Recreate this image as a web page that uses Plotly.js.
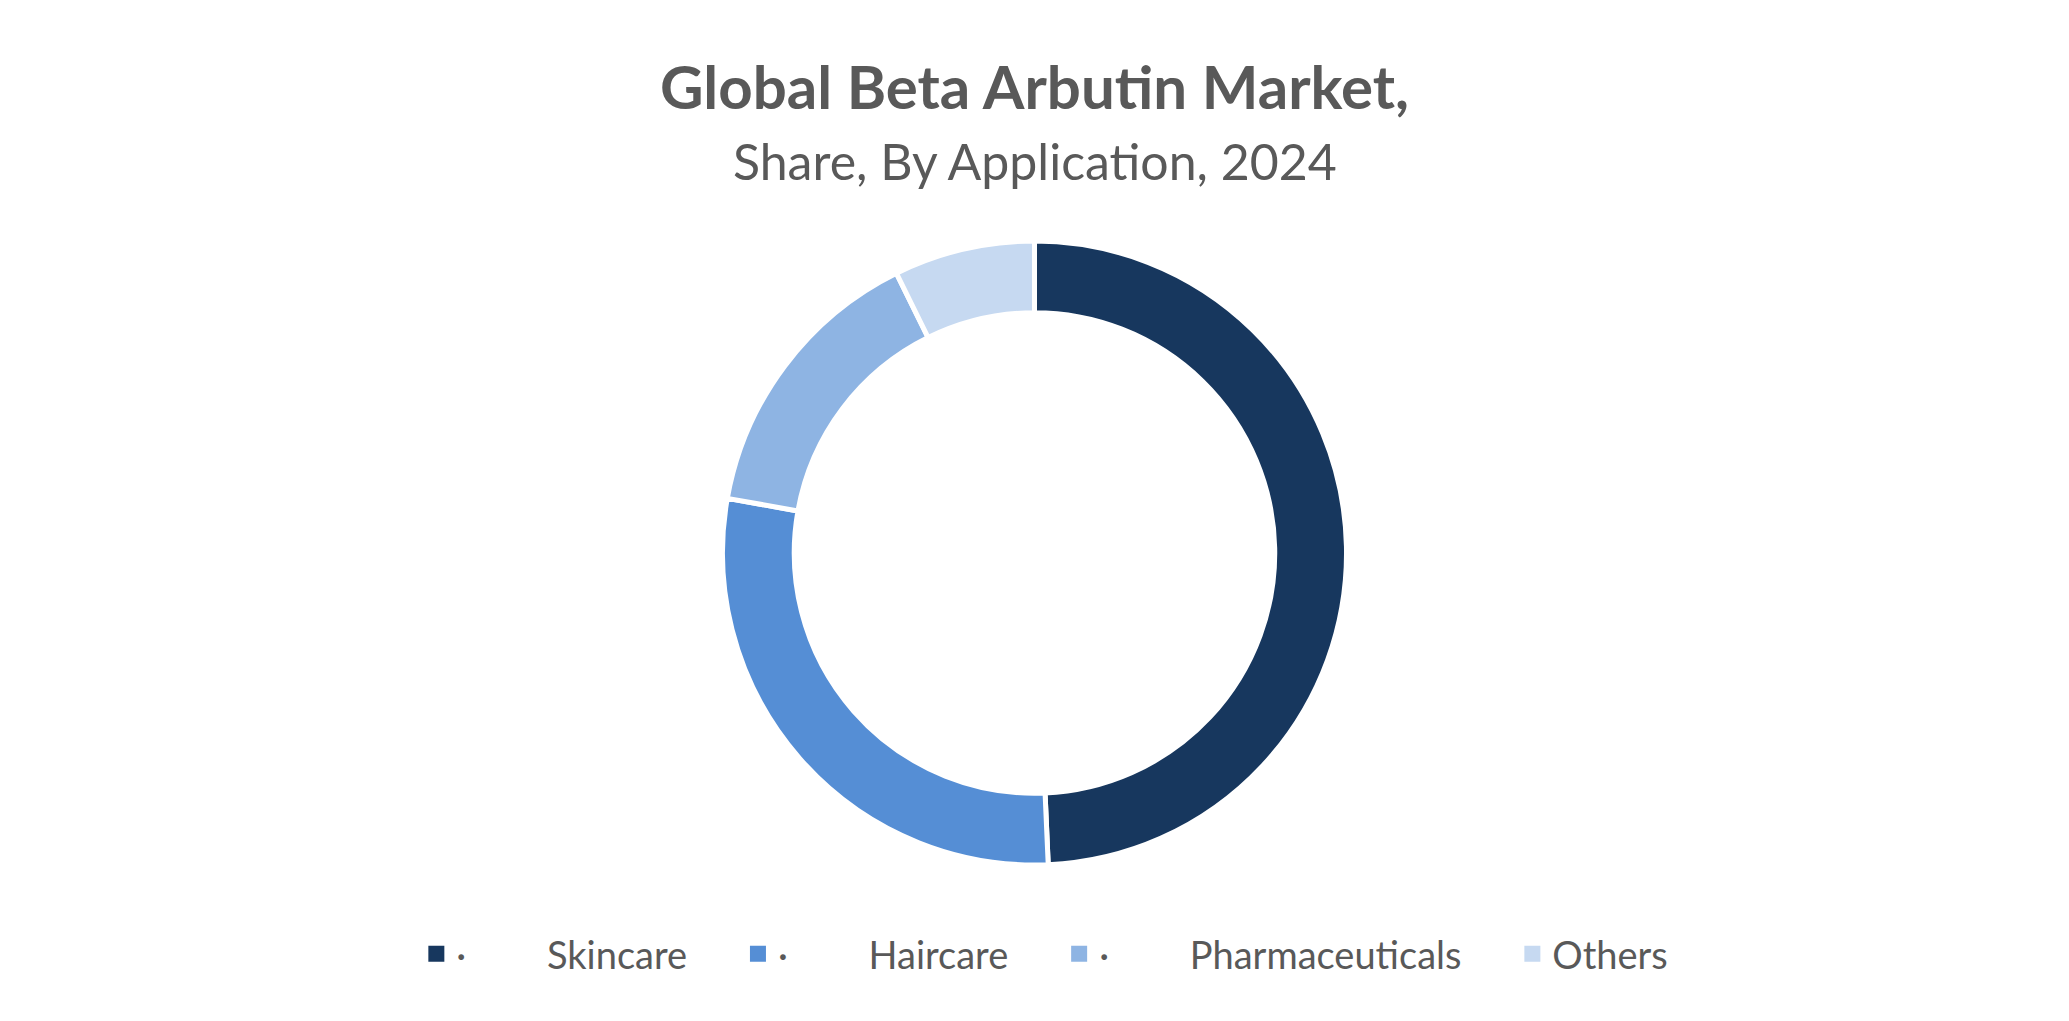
<!DOCTYPE html>
<html>
<head>
<meta charset="utf-8">
<script src="https://cdn.plot.ly/plotly-3.0.1.min.js"></script>
<style>html,body{margin:0;padding:0;background:#fff;}#chart{width:2069px;height:1021px;}</style>
</head>
<body>
<div id="chart"></div>
<script>
const categories = ["Skincare", "Haircare", "Pharmaceuticals", "Others"];
const shares = [49.3, 28.5, 14.9, 7.3];
const colors = ["#17375E", "#558ED5", "#8EB4E3", "#C6D9F1"];
const legendLabels = [
  "·\u2003\u2003\u2002\u2009Skincare\u2003\u2004\u2009",
  "·\u2003\u2003\u2002\u2009Haircare\u2003\u2004\u2009",
  "·\u2003\u2003\u2002\u2009Pharmaceuticals\u2003\u2004\u2009",
  "Others"
];
const titleText = "Global Beta Arbutin Market,";
const subtitleText = "Share, By Application, 2024";

const trace = {
  type: "pie",
  labels: legendLabels,
  values: shares,
  customdata: categories,
  sort: false,
  direction: "clockwise",
  rotation: 0,
  hole: 0.77,
  textinfo: "none",
  hoverinfo: "skip",
  marker: { colors: colors, line: { color: "#ffffff", width: 5 } },
  domain: { x: [0.2, 0.8], y: [0.1528, 0.764] }
};

const layout = {
  width: 2069,
  height: 1021,
  margin: { l: 0, r: 0, t: 0, b: 0 },
  paper_bgcolor: "#ffffff",
  font: { family: "Lato, 'Open Sans', sans-serif", color: "#595959" },
  title: {
    text: "<b>" + titleText + "</b>",
    font: { size: 60, color: "#595959", family: "Lato, sans-serif" },
    x: 0.5, xanchor: "center",
    y: 1 - 88 / 1021, yanchor: "middle",
    yref: "container"
  },
  annotations: [{
    text: subtitleText,
    xref: "paper", yref: "paper",
    x: 0.5, xanchor: "center",
    y: 1 - 161 / 1021, yanchor: "middle",
    showarrow: false,
    font: { size: 50, color: "#595959", family: "Lato, sans-serif" }
  }],
  showlegend: true,
  legend: {
    orientation: "h",
    x: 0.505, xanchor: "center",
    y: 1 - 954 / 1021, yanchor: "middle",
    font: { size: 38, color: "#595959", family: "Lato, sans-serif" },
    traceorder: "normal"
  }
};

Plotly.newPlot("chart", [trace], layout, { displayModeBar: false, staticPlot: true }).then(function (gd) {
  gd.querySelectorAll(".legendpoints path").forEach(function (p) {
    p.setAttribute("d", "M8,8H-8V-8H8Z");
    p.style.strokeWidth = "0px";
  });
});
</script>
</body>
</html>
